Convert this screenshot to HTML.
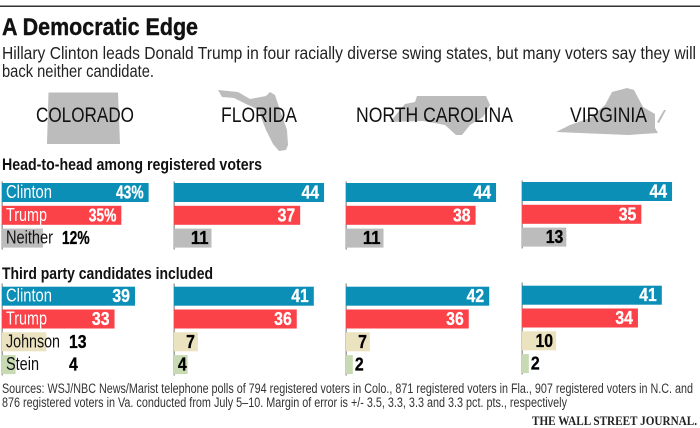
<!DOCTYPE html>
<html>
<head>
<meta charset="utf-8">
<title>A Democratic Edge</title>
<style>
html,body{margin:0;padding:0;background:#fff;}
svg{display:block;font-family:"Liberation Sans",sans-serif;}
</style>
</head>
<body>
<svg id="chart" width="700" height="428" viewBox="0 0 700 428" xmlns="http://www.w3.org/2000/svg">
  <rect width="700" height="428" fill="#fff"/>
  <rect x="0" y="5.5" width="700" height="1.5" fill="#333"/>
  <text x="2" y="35" font-size="24.5" font-weight="700" fill="#111" stroke="#111" stroke-width="0.4" textLength="196" lengthAdjust="spacingAndGlyphs">A Democratic Edge</text>
  <text x="2" y="59" font-size="17.5" fill="#222" textLength="694" lengthAdjust="spacingAndGlyphs">Hillary Clinton leads Donald Trump in four racially diverse swing states, but many voters say they will</text>
  <text x="2" y="77" font-size="17.5" fill="#222" textLength="152" lengthAdjust="spacingAndGlyphs">back neither candidate.</text>

  <polygon fill="#bcbcbc" points="48.5,92.5 118,92.5 120,144 47,144"/>
  <polygon fill="#bcbcbc" points="218,90 238,92 250,99 266,96 270,92 275,95 280,110 287,130 288,145 286,150 279,151 273,144 266,130 262,120 259,110 246,104 234,98 222,97"/>
  <polygon fill="#bcbcbc" points="417,96 486,96 490,105 483,117 470,125 462,135 456,135 445,125 423,121 390,122 405,104 415,102"/>
  <polygon fill="#bcbcbc" points="556,132 570,125 590,118 605,105 612,92 627,88 634,90 643,107 655,114 655,128 658,133 628,135"/>
  <polygon fill="#bcbcbc" points="664,110 666,110 659,123 657,122"/>

  <text x="36" y="122" font-size="21" fill="#111" textLength="98" lengthAdjust="spacingAndGlyphs">COLORADO</text>
  <text x="221" y="122" font-size="21" fill="#111" textLength="76" lengthAdjust="spacingAndGlyphs">FLORIDA</text>
  <text x="356" y="122" font-size="21" fill="#111" textLength="157" lengthAdjust="spacingAndGlyphs">NORTH CAROLINA</text>
  <text x="570" y="122" font-size="21" fill="#111" textLength="77" lengthAdjust="spacingAndGlyphs">VIRGINIA</text>

  <text x="2" y="170" font-size="16.5" font-weight="700" fill="#111" textLength="260" lengthAdjust="spacingAndGlyphs">Head-to-head among registered voters</text>
  <text x="2" y="279" font-size="16.5" font-weight="700" fill="#111" textLength="211" lengthAdjust="spacingAndGlyphs">Third party candidates included</text>

  <g id="bars"></g>

  <text x="2" y="393" font-size="13.5" fill="#333" textLength="691" lengthAdjust="spacingAndGlyphs">Sources: WSJ/NBC News/Marist telephone polls of 794 registered voters in Colo., 871 registered voters in Fla., 907 registered voters in N.C. and</text>
  <text x="2" y="407" font-size="13.5" fill="#333" textLength="565" lengthAdjust="spacingAndGlyphs">876 registered voters in Va. conducted from July 5–10. Margin of error is +/- 3.5, 3.3, 3.3 and 3.3 pct. pts., respectively</text>
  <text x="532" y="425" font-family="'Liberation Serif',serif" font-size="12.5" font-weight="700" fill="#222" textLength="165" lengthAdjust="spacingAndGlyphs">THE WALL STREET JOURNAL.</text>
</svg>
<script>
var states = ['colorado', 'florida', 'north-carolina', 'virginia'];
var headCandidates = ['Clinton', 'Trump', 'Neither'];
var headClinton = [43, 44, 44, 44];
var headTrump = [35, 37, 38, 35];
var headNeither = [12, 11, 11, 13];
var thirdCandidates = ['Clinton', 'Trump', 'Johnson', 'Stein'];
var thirdClinton = [39, 41, 42, 41];
var thirdTrump = [33, 36, 36, 34];
var thirdJohnson = [13, 7, 7, 10];
var thirdStein = [4, 4, 2, 2];

var colors = {Clinton: '#0b8fb7', Trump: '#fa4248', Neither: '#bcbcbc', Johnson: '#ebe2bf', Stein: '#c8dab4'};
var labelWidths = {Clinton: 46, Trump: 41, Neither: 47, Johnson: 54, Stein: 33};
var panelLeft = [2, 174, 346, 522];
var panelShift = [0, 0, 0, -1];
var ROW_STEP = 22.8;
var BAR_H = 19;
var NS = 'http://www.w3.org/2000/svg';
var root = document.getElementById('bars');

function xScale(v) { return v * 3.41; }

function make(tag, attrs, parent) {
  var el = document.createElementNS(NS, tag);
  for (var k in attrs) { el.setAttribute(k, attrs[k]); }
  parent.appendChild(el);
  return el;
}

function drawGroup(groupName, candidates, seriesList, top, axisTop, axisBottom) {
  states.forEach(function (state, p) {
    var x0 = panelLeft[p];
    var dy = panelShift[p];
    var axis = make('rect', {x: x0 - 0.5, y: axisTop + dy, width: 1.4, height: axisBottom - axisTop, fill: '#9a9a9a'}, root);
    
    
    candidates.forEach(function (name, r) {
      var v = seriesList[r][p];
      var y = top + r * ROW_STEP + dy;
      var w = xScale(v);
      var light = name === 'Clinton' || name === 'Trump';
      var bar = make('rect', {x: x0, y: y, width: w, height: BAR_H, fill: colors[name]}, root);
      
      
      if (p === 0) {
        var lab = make('text', {x: 6, y: y + 15, 'font-size': 18, fill: light ? '#fff' : '#111', textLength: labelWidths[name], lengthAdjust: 'spacingAndGlyphs'}, root);
        lab.textContent = name;
        
        
      }
      var isPct = groupName === 'head' && p === 0;
      var fill = light ? '#fff' : '#000';
      var text = v + (isPct ? '%' : '');
      var attrs = {y: y + 15.5, 'font-size': 18, 'font-weight': 700, fill: fill, stroke: fill, 'stroke-width': 0.3, textLength: String(v).length * 8.8 + (isPct ? 10 : 0), lengthAdjust: 'spacingAndGlyphs'};
      if (light) {
        attrs.x = x0 + w - 5;
        attrs['text-anchor'] = 'end';
      } else if (p === 0) {
        attrs.x = isPct ? 62 : 69;
      } else if (v >= 4) {
        attrs.x = x0 + w - (v < 5 ? 1 : 3);
        attrs['text-anchor'] = 'end';
      } else {
        attrs.x = x0 + w + 2;
      }
      var val = make('text', attrs, root);
      val.textContent = text;
      
      
    });
  });
}

drawGroup('head', headCandidates, [headClinton, headTrump, headNeither], 183, 181.5, 249.5);
drawGroup('third', thirdCandidates, [thirdClinton, thirdTrump, thirdJohnson, thirdStein], 286.7, 283.5, 375.5);
</script>
</body>
</html>
